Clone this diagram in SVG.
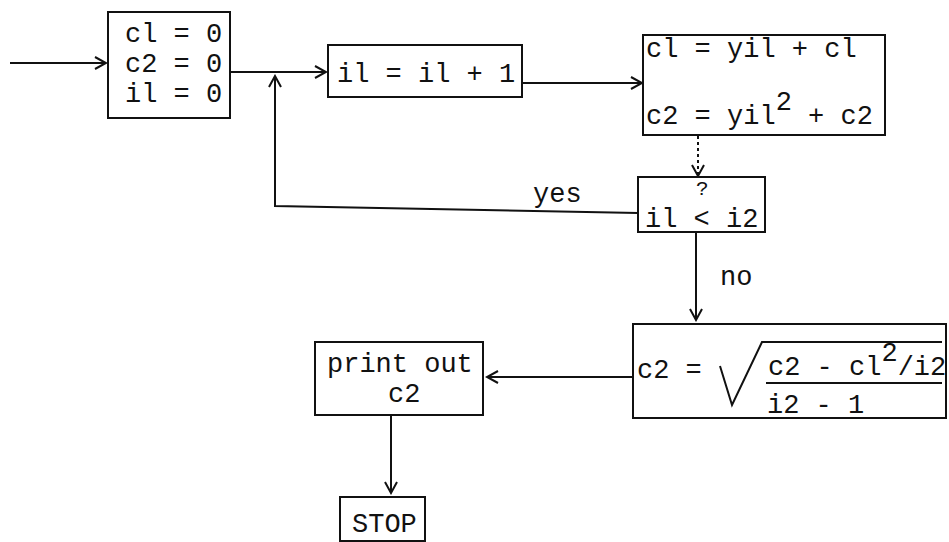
<svg xmlns="http://www.w3.org/2000/svg" width="949" height="542" viewBox="0 0 949 542">
<style>
.box{fill:none;stroke:#111;stroke-width:2}
.t{font-family:"Liberation Mono","Courier New",monospace;font-size:27px;fill:#111}
.sm{font-size:21px}
.c{fill:none;stroke:#111;stroke-width:2}
</style>
<defs>
<marker id="ah" markerUnits="userSpaceOnUse" markerWidth="14" markerHeight="14" refX="12" refY="7" orient="auto">
<path d="M1,1 L12,7 L1,13" fill="none" stroke="#111" stroke-width="2"/>
</marker>
</defs>
<rect width="949" height="542" fill="#fff"/>
<g id="connectors">
<path class="c" d="M10,63 L106,63" marker-end="url(#ah)"/>
<path class="c" d="M231,72 L326,72" marker-end="url(#ah)"/>
<path class="c" d="M638,213 L275,206 L275,76" marker-end="url(#ah)"/>
<path class="c" d="M522,83 L642,83" marker-end="url(#ah)"/>
<path class="c" d="M698,136 L698,176" stroke-dasharray="3,3" marker-end="url(#ah)"/>
<path class="c" d="M696,232 L696,320" marker-end="url(#ah)"/>
<path class="c" d="M633,377 L487,377" marker-end="url(#ah)"/>
<path class="c" d="M391,416 L391,493" marker-end="url(#ah)"/>
<text class="t" x="533" y="202">yes</text>
<text class="t" x="720" y="285">no</text>
</g>
<g id="init">
<rect class="box" x="108" y="12" width="122" height="106"/>
<text class="t" x="125" y="42">cl = 0</text>
<text class="t" x="125" y="72">c2 = 0</text>
<text class="t" x="125" y="102">il = 0</text>
</g>
<g id="increment">
<rect class="box" x="328" y="45" width="194" height="52"/>
<text class="t" x="337" y="82">il = il + 1</text>
</g>
<g id="accumulate">
<rect class="box" x="643" y="35" width="242" height="100"/>
<text class="t" x="646" y="57">cl = yil + cl</text>
<text class="t" x="646" y="124">c2 = yil<tspan dy="-14">2</tspan><tspan dy="14"> + c2</tspan></text>
</g>
<g id="compare">
<rect class="box" x="638" y="177" width="127" height="55"/>
<text class="t" x="645" y="227">il &lt; i2</text>
<text class="t sm" x="696" y="195">?</text>
</g>
<g id="compute">
<rect class="box" x="633" y="324" width="313" height="94"/>
<text class="t" x="637" y="378">c2 =</text>
<path class="c" d="M720,366 L732,405 L762,342 L942,342"/>
<text class="t" x="768" y="375">c2 - cl<tspan dy="-14">2</tspan><tspan dy="14">/i2</tspan></text>
<path class="c" d="M766,383 L942,383"/>
<text class="t" x="767" y="413">i2 - 1</text>
</g>
<g id="print">
<rect class="box" x="315" y="342" width="168" height="73"/>
<text class="t" x="327" y="372">print out</text>
<text class="t" x="388" y="402">c2</text>
</g>
<g id="stop">
<rect class="box" x="340" y="497" width="85" height="44"/>
<text class="t" x="352" y="532">STOP</text>
</g>
</svg>
